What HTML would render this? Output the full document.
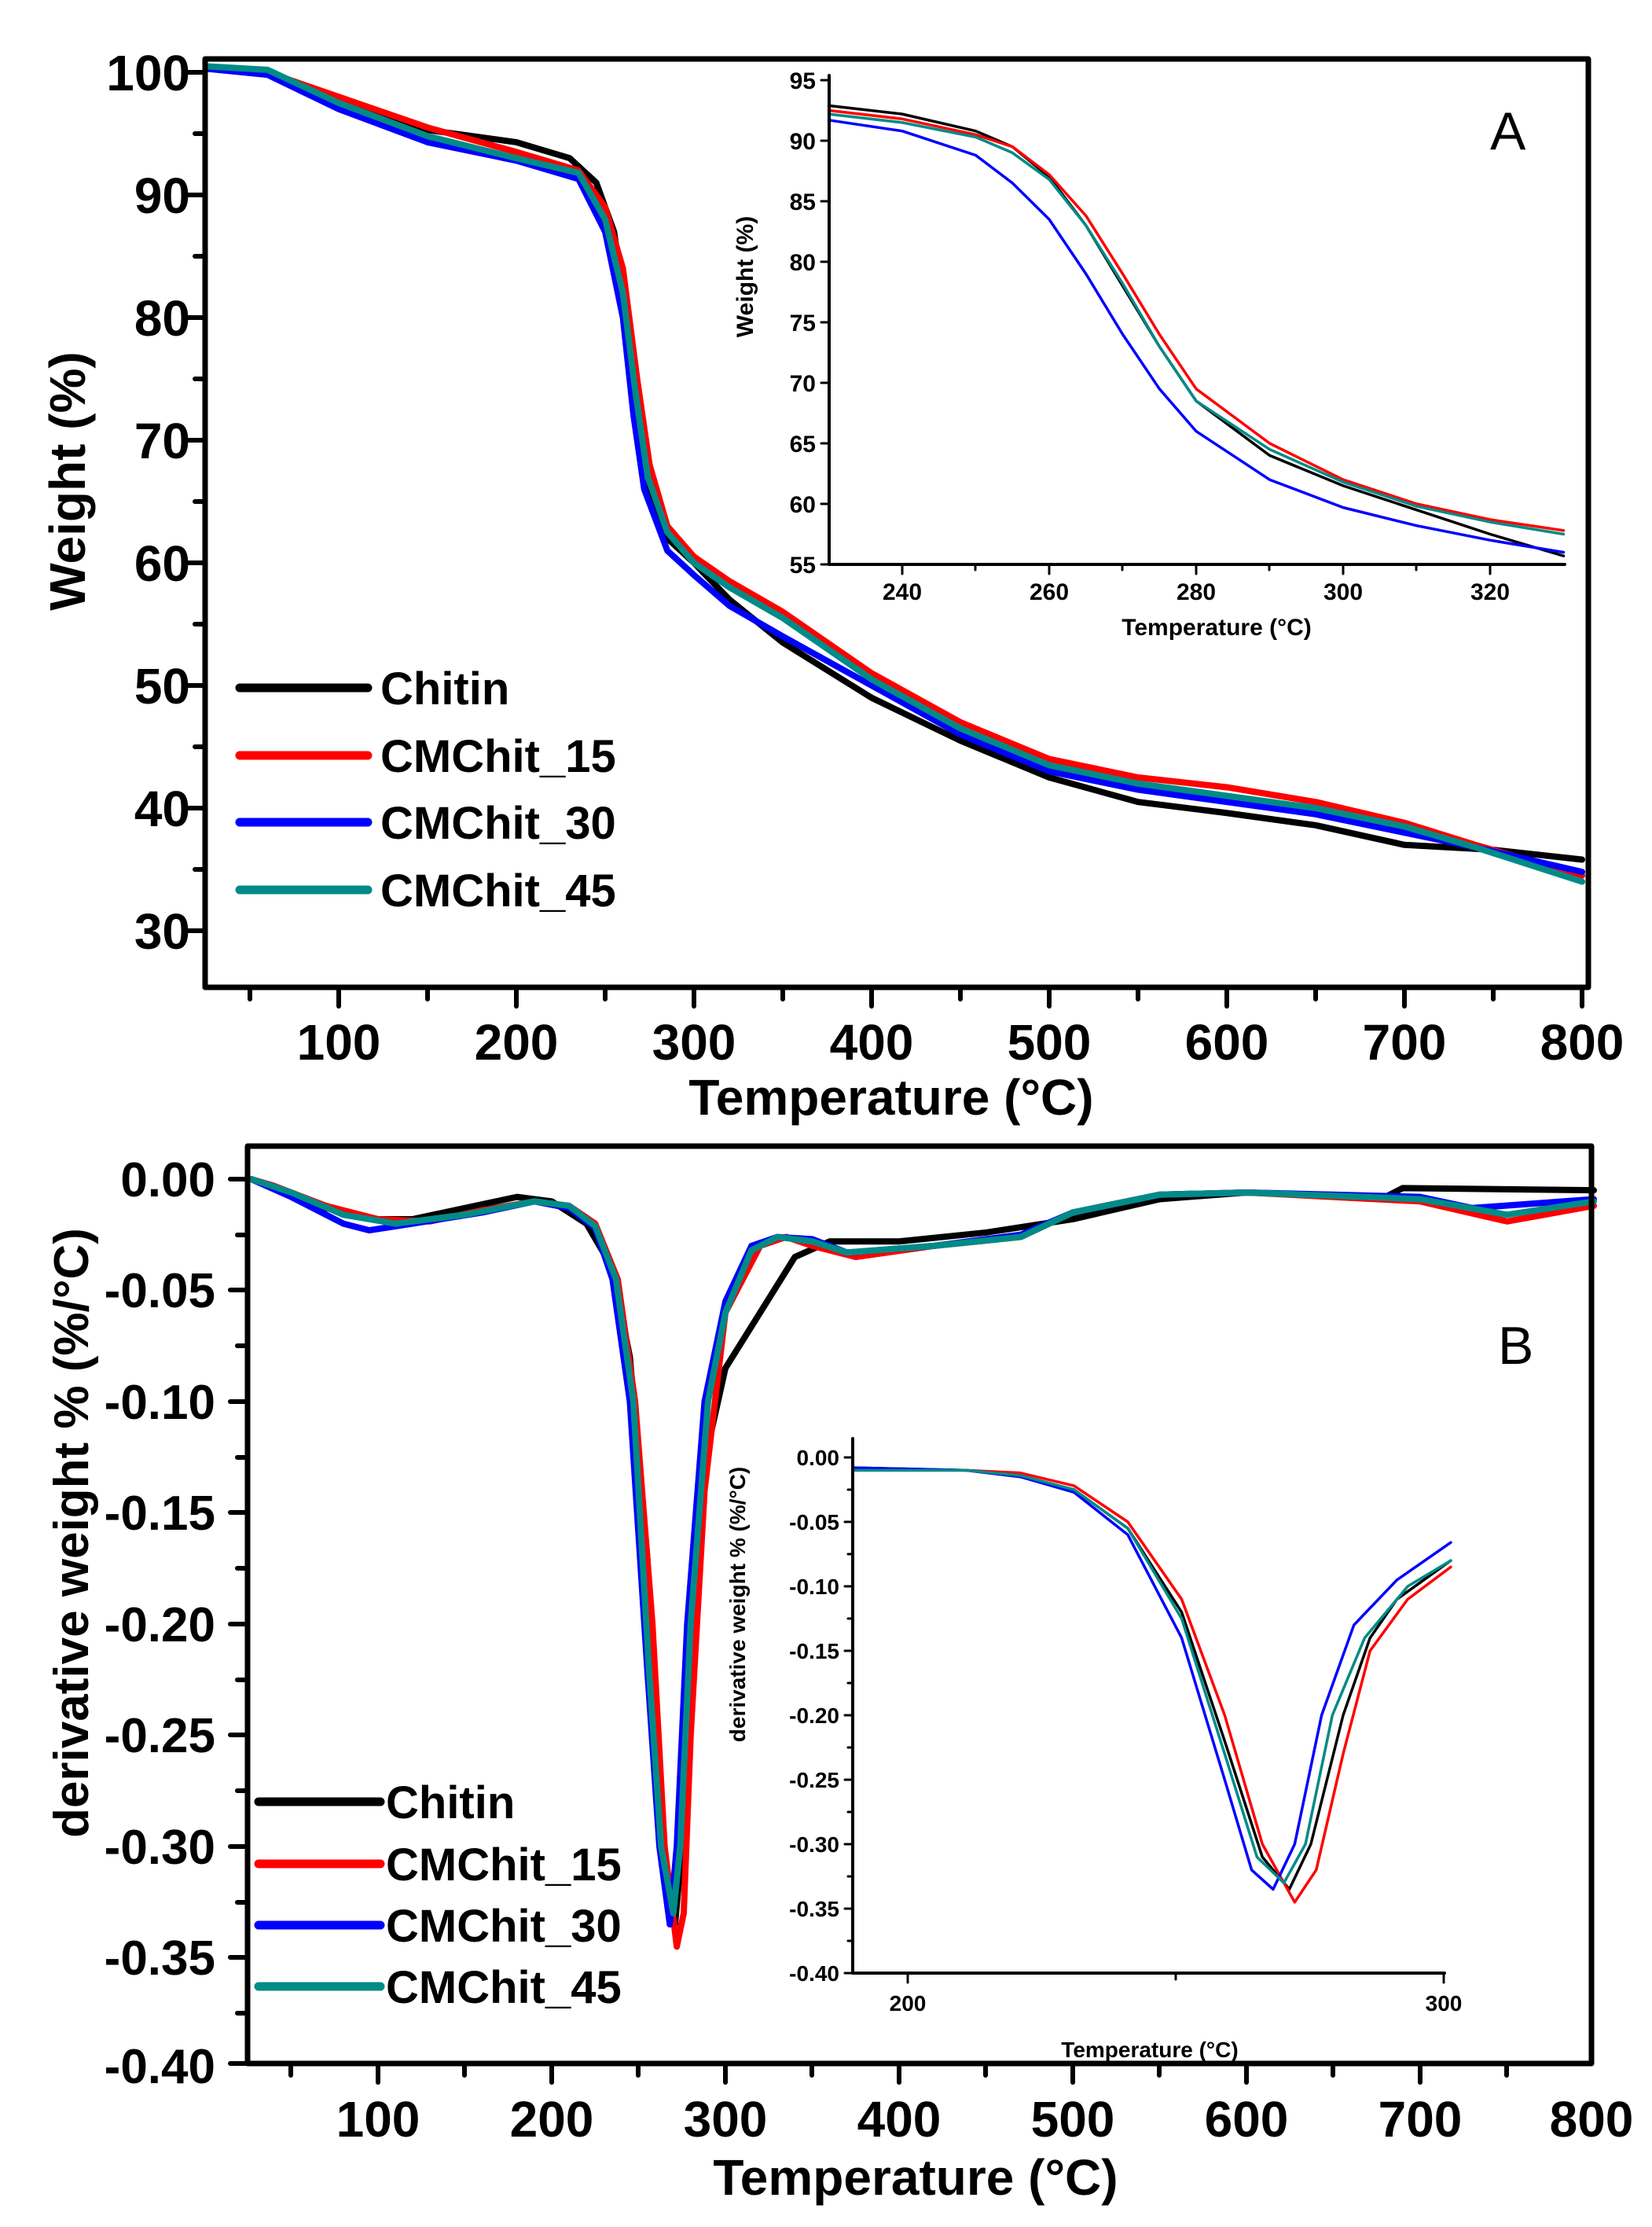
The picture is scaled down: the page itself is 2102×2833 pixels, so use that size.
<!DOCTYPE html>
<html><head><meta charset="utf-8"><style>html,body{margin:0;padding:0;background:#fff}svg{display:block}text{font-family:"Liberation Sans",Arial,sans-serif}</style></head>
<body>
<svg xmlns="http://www.w3.org/2000/svg" width="2102" height="2833" viewBox="0 0 2102 2833">
<rect width="2102" height="2833" fill="#fff"/>
<g fill="none" stroke-linejoin="round" stroke-linecap="round">
<!-- ===== PANEL A main ===== -->
<g transform="translate(205,1652) scale(2.26,-15.6)">
<polyline vector-effect="non-scaling-stroke" stroke="#000" stroke-width="8" points="25,100.3 50,100.2 70,99.5 100,97.8 150,95.3 200,94.3 230,93 245,91 255,87 262,80 268,72 275,66 285,62 300,60 320,57 350,53.5 400,49 450,45.5 500,42.5 550,40.5 600,39.6 650,38.6 700,37 750,36.6 800,35.8"/>
<polyline vector-effect="non-scaling-stroke" stroke="#ff0000" stroke-width="8" points="25,100.3 60,100 100,98 150,95.5 200,93.5 235,92 250,89 260,84 268,75 275,68 285,63 300,60.5 320,58.5 350,56 400,51 450,47 500,44 550,42.5 600,41.7 650,40.5 700,38.8 740,37 800,34.5"/>
<polyline vector-effect="non-scaling-stroke" stroke="#0000ff" stroke-width="8" points="25,100.3 60,99.8 100,97 150,94.3 200,92.8 235,91.3 250,87 260,80 266,72 272,66 285,61 300,59 320,56.5 350,54 400,50 450,46 500,43 550,41.5 600,40.5 650,39.5 700,38 740,36.8 800,34.8"/>
<polyline vector-effect="non-scaling-stroke" stroke="#008b87" stroke-width="8" points="25,100.5 60,100.2 100,97.5 150,94.8 200,93 235,91.8 250,88 260,82 267,74 274,67 285,62.5 300,60 320,58 350,55.5 400,50.5 450,46.5 500,43.5 550,42 600,41 650,40 700,38.5 740,36.8 800,34"/>
</g>
<rect x="261" y="75" width="1760" height="1181" stroke="#000" stroke-width="7"/>
<path stroke="#000" stroke-width="6" d="M431,1256v24M657,1256v24M883,1256v24M1109,1256v24M1335,1256v24M1561,1256v24M1787,1256v24M2013,1256v24
M318,1256v15M544,1256v15M770,1256v15M996,1256v15M1222,1256v15M1448,1256v15M1674,1256v15M1900,1256v15
M261,92h-22M261,248h-22M261,404h-22M261,560h-22M261,716h-22M261,872h-22M261,1028h-22M261,1184h-22
M261,170h-13M261,326h-13M261,482h-13M261,638h-13M261,794h-13M261,950h-13M261,1106h-13"/>
<!-- inset A -->
<g transform="translate(-1096,1565) scale(9.35,-15.4)">
<polyline vector-effect="non-scaling-stroke" stroke="#000" stroke-width="3.5" points="230,92.9 240,92.2 250,90.8 255,89.5 260,87 265,83 270,78 275,73 280,68.5 290,64 300,61.5 310,59.5 320,57.5 330,55.7"/>
<polyline vector-effect="non-scaling-stroke" stroke="#ff0000" stroke-width="3.5" points="230,92.5 240,91.8 250,90.5 255,89.5 260,87.2 265,83.8 270,79 275,74 280,69.5 290,65 300,62 310,60 320,58.7 330,57.8"/>
<polyline vector-effect="non-scaling-stroke" stroke="#0000ff" stroke-width="3.5" points="230,91.7 240,90.8 250,88.8 255,86.5 260,83.5 265,79 270,74 275,69.5 280,66 290,62 300,59.7 310,58.2 320,57 330,56"/>
<polyline vector-effect="non-scaling-stroke" stroke="#008b87" stroke-width="3.5" points="230,92.2 240,91.5 250,90.3 255,89 260,86.8 265,83 270,78.2 275,73 280,68.5 290,64.5 300,61.8 310,59.8 320,58.5 330,57.5"/>
</g>
<path stroke="#000" stroke-width="4" d="M1055,96V718H1991"/>
<path stroke="#000" stroke-width="3" d="M1148,718v12M1335,718v12M1522,718v12M1709,718v12M1896,718v12M1241,718v7M1428,718v7M1615,718v7M1802,718v7
M1055,102h-10M1055,179h-10M1055,256h-10M1055,333h-10M1055,410h-10M1055,487h-10M1055,564h-10M1055,641h-10M1055,718h-10"/>
<!-- ===== PANEL B main ===== -->
<g transform="translate(260,1500) scale(2.21,-2830)">
<polyline vector-effect="non-scaling-stroke" stroke="#000" stroke-width="8" points="27,0 40,-0.004 70,-0.013 100,-0.018 120,-0.018 150,-0.013 180,-0.008 200,-0.01 220,-0.02 235,-0.04 245,-0.08 255,-0.17 262,-0.28 268,-0.33 271,-0.335 275,-0.3 280,-0.2 290,-0.12 300,-0.085 320,-0.06 340,-0.035 360,-0.028 400,-0.028 450,-0.024 500,-0.018 550,-0.009 600,-0.006 680,-0.008 690,-0.004 800,-0.005"/>
<polyline vector-effect="non-scaling-stroke" stroke="#ff0000" stroke-width="8" points="27,0 40,-0.003 70,-0.012 100,-0.018 130,-0.019 160,-0.014 190,-0.01 210,-0.012 225,-0.02 238,-0.045 248,-0.1 258,-0.2 265,-0.3 272,-0.345 276,-0.33 280,-0.25 288,-0.14 300,-0.06 320,-0.03 335,-0.026 350,-0.03 375,-0.035 420,-0.03 470,-0.026 500,-0.015 550,-0.007 600,-0.006 700,-0.01 750,-0.019 800,-0.012"/>
<polyline vector-effect="non-scaling-stroke" stroke="#0000ff" stroke-width="8" points="27,0 50,-0.008 80,-0.02 95,-0.023 120,-0.02 160,-0.015 190,-0.01 210,-0.013 225,-0.022 235,-0.045 245,-0.1 255,-0.22 262,-0.3 268,-0.335 272,-0.3 278,-0.2 288,-0.1 300,-0.055 315,-0.03 330,-0.026 350,-0.027 370,-0.033 420,-0.03 470,-0.025 500,-0.015 550,-0.007 600,-0.006 700,-0.008 730,-0.013 800,-0.009"/>
<polyline vector-effect="non-scaling-stroke" stroke="#008b87" stroke-width="8" points="27,0 50,-0.006 80,-0.016 110,-0.02 150,-0.016 190,-0.01 210,-0.012 225,-0.021 237,-0.045 247,-0.1 256,-0.22 263,-0.3 270,-0.33 274,-0.3 280,-0.2 290,-0.1 300,-0.06 315,-0.032 330,-0.026 350,-0.028 370,-0.033 420,-0.03 470,-0.026 500,-0.015 550,-0.007 600,-0.006 700,-0.009 750,-0.016 800,-0.01"/>
</g>
<rect x="315" y="1458" width="1710" height="1167" stroke="#000" stroke-width="7"/>
<path stroke="#000" stroke-width="6" d="M481,2625v24M702,2625v24M923,2625v24M1144,2625v24M1365,2625v24M1586,2625v24M1807,2625v24
M370,2625v15M591,2625v15M812,2625v15M1033,2625v15M1254,2625v15M1475,2625v15M1696,2625v15M1917,2625v15
M315,1500h-22M315,1641h-22M315,1783h-22M315,1924h-22M315,2066h-22M315,2207h-22M315,2349h-22M315,2490h-22M315,2625h-22
M315,1571h-13M315,1712h-13M315,1854h-13M315,1995h-13M315,2137h-13M315,2278h-13M315,2420h-13M315,2561h-13"/>
<!-- inset B -->
<g transform="translate(-209,1854) scale(6.85,-1640)">
<polyline vector-effect="non-scaling-stroke" stroke="#000" stroke-width="3.5" points="189,-0.008 210,-0.01 220,-0.015 230,-0.025 240,-0.055 250,-0.12 258,-0.22 265,-0.31 270,-0.335 274,-0.3 280,-0.2 285,-0.14 290,-0.11 300,-0.08"/>
<polyline vector-effect="non-scaling-stroke" stroke="#ff0000" stroke-width="3.5" points="189,-0.01 210,-0.01 220,-0.012 230,-0.022 240,-0.05 250,-0.11 258,-0.2 265,-0.3 271,-0.345 275,-0.32 280,-0.23 285,-0.15 292,-0.11 300,-0.085"/>
<polyline vector-effect="non-scaling-stroke" stroke="#0000ff" stroke-width="3.5" points="189,-0.008 210,-0.01 220,-0.015 230,-0.027 240,-0.06 250,-0.14 258,-0.25 263,-0.32 267,-0.335 271,-0.3 276,-0.2 282,-0.13 290,-0.095 300,-0.066"/>
<polyline vector-effect="non-scaling-stroke" stroke="#008b87" stroke-width="3.5" points="189,-0.01 210,-0.01 220,-0.014 230,-0.025 240,-0.055 250,-0.125 258,-0.23 264,-0.31 269,-0.33 273,-0.3 278,-0.2 284,-0.14 292,-0.1 300,-0.08"/>
</g>
<path stroke="#000" stroke-width="4" d="M1085,1830V2510H1838"/>
<path stroke="#000" stroke-width="3" d="M1155,2510v12M1837,2510v12M1496,2510v8
M1085,1854h-10M1085,1936h-10M1085,2018h-10M1085,2100h-10M1085,2182h-10M1085,2264h-10M1085,2346h-10M1085,2428h-10M1085,2510h-10
M1085,1895h-6M1085,1977h-6M1085,2059h-6M1085,2141h-6M1085,2223h-6M1085,2305h-6M1085,2387h-6M1085,2469h-6"/>
<!-- legend lines -->
<g stroke-width="11">
<path stroke="#000" d="M305,875H468"/><path stroke="#ff0000" d="M305,961H468"/><path stroke="#0000ff" d="M305,1046H468"/><path stroke="#008b87" d="M305,1132H468"/>
<path stroke="#000" d="M329,2292H484"/><path stroke="#ff0000" d="M329,2371H484"/><path stroke="#0000ff" d="M329,2449H484"/><path stroke="#008b87" d="M329,2527H484"/>
</g>
</g>
<!-- TEXT A -->
<g font-weight="bold" font-size="64" fill="#000">
<g text-anchor="end">
<text x="242" y="115">100</text><text x="242" y="271">90</text><text x="242" y="427">80</text><text x="242" y="583">70</text><text x="242" y="739">60</text><text x="242" y="895">50</text><text x="242" y="1051">40</text><text x="242" y="1207">30</text>
</g>
<g text-anchor="middle">
<text x="431" y="1348">100</text><text x="657" y="1348">200</text><text x="883" y="1348">300</text><text x="1109" y="1348">400</text><text x="1335" y="1348">500</text><text x="1561" y="1348">600</text><text x="1787" y="1348">700</text><text x="2013" y="1348">800</text>
<text x="1134" y="1418" font-size="64">Temperature (°C)</text>
<text transform="translate(108,612) rotate(-90)" font-size="64">Weight  (%)</text>
</g>
<g font-size="58">
<text x="484" y="896">Chitin</text><text x="484" y="982">CMChit_15</text><text x="484" y="1067">CMChit_30</text><text x="484" y="1153">CMChit_45</text>
</g>
</g>
<text x="1896" y="190" font-size="68" fill="#000">A</text>
<g font-weight="bold" font-size="30" fill="#000">
<g text-anchor="end">
<text x="1038" y="113">95</text><text x="1038" y="190">90</text><text x="1038" y="267">85</text><text x="1038" y="344">80</text><text x="1038" y="421">75</text><text x="1038" y="498">70</text><text x="1038" y="575">65</text><text x="1038" y="652">60</text><text x="1038" y="729">55</text>
</g>
<g text-anchor="middle">
<text x="1148" y="763">240</text><text x="1335" y="763">260</text><text x="1522" y="763">280</text><text x="1709" y="763">300</text><text x="1896" y="763">320</text>
<text x="1548" y="808">Temperature (°C)</text>
<text transform="translate(958,352) rotate(-90)">Weight  (%)</text>
</g>
</g>
<!-- TEXT B -->
<g font-weight="bold" font-size="62" fill="#000">
<g text-anchor="end">
<text x="274" y="1522">0.00</text><text x="274" y="1663">-0.05</text><text x="274" y="1805">-0.10</text><text x="274" y="1946">-0.15</text><text x="274" y="2088">-0.20</text><text x="274" y="2229">-0.25</text><text x="274" y="2371">-0.30</text><text x="274" y="2512">-0.35</text><text x="274" y="2650">-0.40</text>
</g>
<g text-anchor="middle">
<text x="481" y="2718" font-size="64">100</text><text x="702" y="2718" font-size="64">200</text><text x="923" y="2718" font-size="64">300</text><text x="1144" y="2718" font-size="64">400</text><text x="1365" y="2718" font-size="64">500</text><text x="1586" y="2718" font-size="64">600</text><text x="1807" y="2718" font-size="64">700</text><text x="2025" y="2718" font-size="64">800</text>
<text x="1165" y="2792" font-size="64">Temperature (°C)</text>
<text transform="translate(112,1950) rotate(-90)" font-size="62">derivative weight % (%/°C)</text>
</g>
<g font-size="58">
<text x="491" y="2313">Chitin</text><text x="491" y="2392">CMChit_15</text><text x="491" y="2470">CMChit_30</text><text x="491" y="2548">CMChit_45</text>
</g>
</g>
<text x="1906" y="1735" font-size="68" fill="#000">B</text>
<g font-weight="bold" font-size="28" fill="#000">
<g text-anchor="end">
<text x="1068" y="1864">0.00</text><text x="1068" y="1946">-0.05</text><text x="1068" y="2028">-0.10</text><text x="1068" y="2110">-0.15</text><text x="1068" y="2192">-0.20</text><text x="1068" y="2274">-0.25</text><text x="1068" y="2356">-0.30</text><text x="1068" y="2438">-0.35</text><text x="1068" y="2520">-0.40</text>
</g>
<g text-anchor="middle">
<text x="1155" y="2558">200</text><text x="1837" y="2558">300</text>
<text x="1463" y="2617">Temperature (°C)</text>
<text transform="translate(948,2041) rotate(-90)">derivative weight % (%/°C)</text>
</g>
</g>
</svg>
</body></html>
